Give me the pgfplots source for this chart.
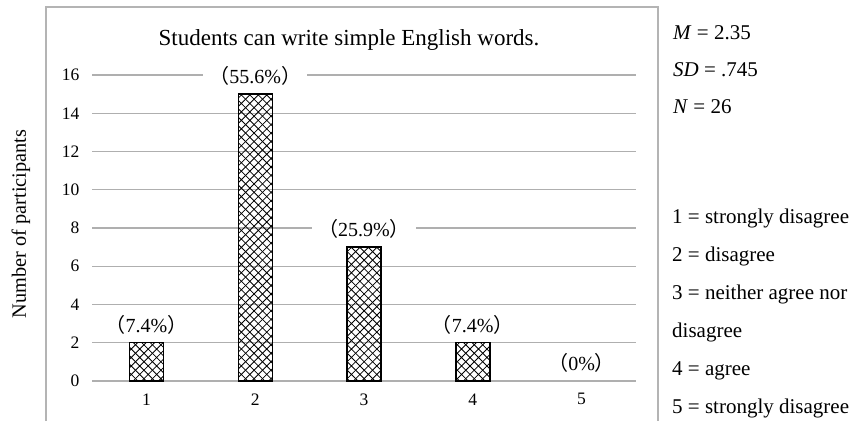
\documentclass[border=0pt]{standalone}
\usepackage{fontspec}
\setmainfont{Liberation Serif}
\newfontfamily\cjk{Noto Sans CJK JP}
\usepackage{pgfplots}
\pgfplotsset{compat=1.18}
\usetikzlibrary{patterns}

\definecolor{gridgray}{RGB}{175,175,175}
\definecolor{framegray}{RGB}{180,180,180}

% diagonal cross hatch, as in the original bars
\pgfdeclarepatternformonly{diagcross}{\pgfqpoint{-1pt}{-1pt}}{\pgfqpoint{9.5pt}{9.5pt}}{\pgfqpoint{8.5pt}{8.5pt}}{
  \pgfsetlinewidth{0.8pt}
  \pgfpathmoveto{\pgfqpoint{0pt}{0pt}}\pgfpathlineto{\pgfqpoint{8.5pt}{8.5pt}}
  \pgfpathmoveto{\pgfqpoint{0pt}{8.5pt}}\pgfpathlineto{\pgfqpoint{8.5pt}{0pt}}
  \pgfusepath{stroke}}

\newcommand{\pct}[1]{{\cjk （}#1{\cjk ）}}

\begin{document}
\begin{tikzpicture}[x=1bp,y=1bp]
\useasboundingbox (0,0) rectangle (857,421);
\draw[framegray, line width=1.2bp] (46,0) -- (46,414) -- (658,414) -- (658,0);

\begin{axis}[
    at={(92bp,40bp)}, anchor=south west,
    scale only axis, width=544bp, height=306bp,
    xmin=0.5, xmax=5.5, ymin=0, ymax=16,
    xtick={1,2,3,4,5}, ytick={0,2,4,6,8,10,12,14,16},
    axis x line*=bottom, axis y line*=left,
    x axis line style={gridgray, line width=1.2bp, -},
    y axis line style={draw=none},
    major tick length=0pt,
    ymajorgrids, grid style={gridgray, line width=1.2bp},
    tick label style={font=\fontsize{17.5bp}{20bp}\selectfont},
    /pgf/number format/assume math mode=true,
    xticklabel style={yshift=-9bp},
    yticklabel style={xshift=-9bp},
    clip=false,
    ybar, bar width=34bp,
    nodes near coords,
    point meta=explicit symbolic,
    every node near coord/.append style={anchor=center, yshift=18bp,
        fill=white, inner xsep=6bp, inner ysep=1bp,
        font=\fontsize{20bp}{24bp}\selectfont},
]
\addplot[draw=black, line width=1.4bp, pattern=diagcross, bar shift=0pt]
  coordinates {
    (1,2)  [\pct{7.4\%}]
    (2,15) [\pct{55.6\%}]
    (3,7)  [\pct{25.9\%}]
    (4,2)  [\pct{7.4\%}]
  };
% category 5 has no responses: only its label shows
\addplot[draw=none, fill=none, bar shift=0pt]
  coordinates {
    (5,0)  [\pct{0\%}]
  };
\end{axis}

\node[font=\fontsize{23bp}{27bp}\selectfont] at (349,381) {Students can write simple English words.};
\node[rotate=90, font=\fontsize{20.3bp}{24bp}\selectfont] at (21,197) {Number of participants};

\begin{scope}[every node/.style={anchor=base west, inner sep=0pt, font=\fontsize{21bp}{25bp}\selectfont}]
\node at (673,382) {\textit{M} = 2.35};
\node at (673,345) {\textit{SD} = .745};
\node at (673,308) {\textit{N} = 26};
\node at (672,198) {1 = strongly disagree};
\node at (672,160) {2 = disagree};
\node at (672,122) {3 = neither agree nor};
\node at (672,84)  {disagree};
\node at (672,46)  {4 = agree};
\node at (672,8)   {5 = strongly disagree};
\end{scope}
\end{tikzpicture}
\end{document}
